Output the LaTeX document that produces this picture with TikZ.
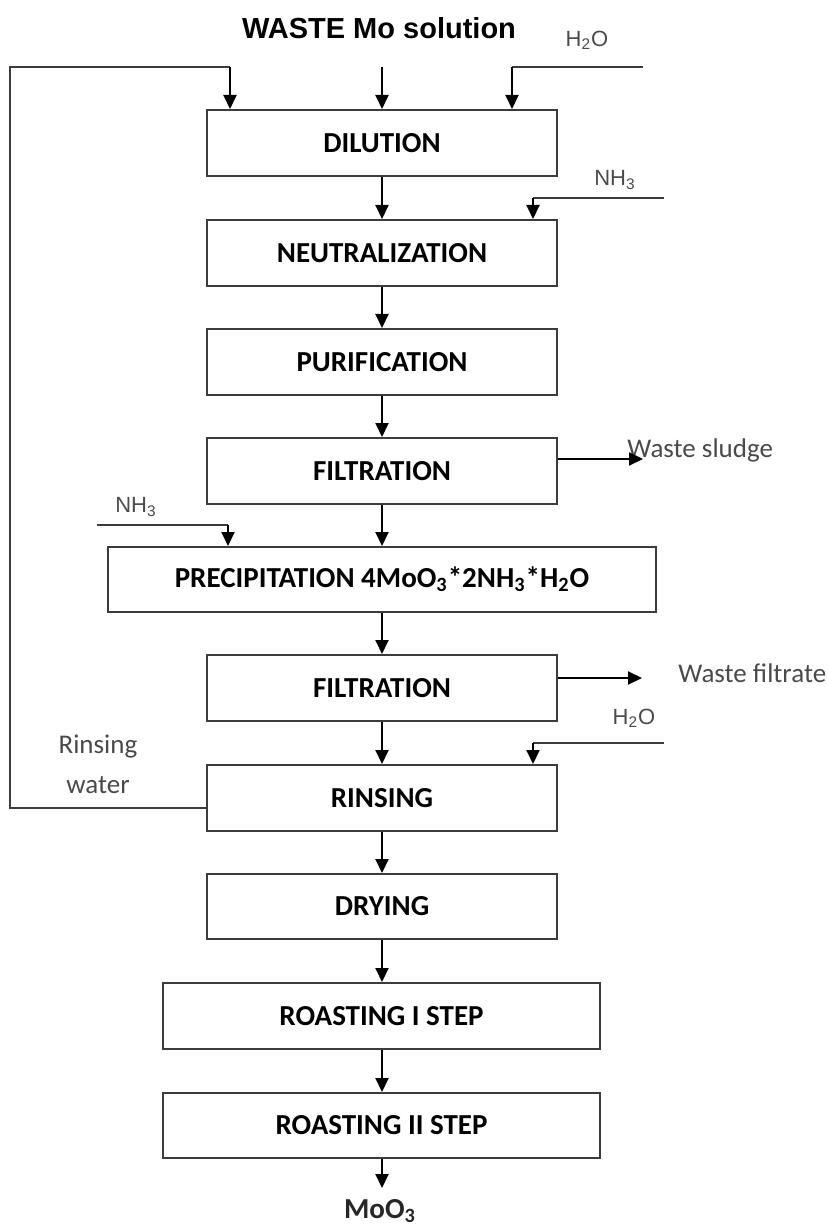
\documentclass[tikz,border=0pt]{standalone}
\usepackage{fontspec}
\setmainfont{Carlito}
\newfontfamily\arialf{Liberation Sans}
\usetikzlibrary{arrows.meta,calc}
\definecolor{lab}{HTML}{4A4A4A}
\definecolor{lin}{HTML}{3C3C3C}
\tikzset{
  procbox/.style={draw=lin, line width=1pt, minimum width=175pt, minimum height=33pt, inner sep=0pt,
    font=\fontsize{14.5}{17}\selectfont\bfseries},
  arr/.style={draw=black, line width=1pt, -{Triangle[width=6.5pt,length=7pt]}},
  feed/.style={draw=lin, line width=1pt},
  chem/.style={text=lab, font=\arialf\fontsize{11}{13}\selectfont, inner sep=0pt},
  side/.style={text=lab, font=\fontsize{13.5}{15}\selectfont, inner sep=0pt},
}
\begin{document}
\begin{tikzpicture}[x=0.5pt,y=-0.5pt]
\useasboundingbox (0,0) rectangle (827,1229);
% title
\node[font=\arialf\fontsize{14.5}{17}\selectfont\bfseries, inner sep=0pt] (title) at (379,28) {WASTE Mo solution};
% boxes
\node[procbox] (dil) at (382,143) {DILUTION};
\node[procbox] (neu) at (382,253) {NEUTRALIZATION};
\node[procbox] (pur) at (382,362) {PURIFICATION};
\node[procbox] (fil1) at (382,471) {FILTRATION};
\node[procbox, minimum width=274pt, minimum height=32.5pt] (pre) at (382,579.5) {PRECIPITATION 4MoO\textsubscript{3}*2NH\textsubscript{3}*H\textsubscript{2}O};
\node[procbox] (fil2) at (382,688) {FILTRATION};
\node[procbox] (rin) at (382,798) {RINSING};
\node[procbox, minimum height=32.5pt] (dry) at (382,906.5) {DRYING};
\node[procbox, minimum width=218.5pt] (r1) at (381.5,1016) {ROASTING I STEP};
\node[procbox, minimum width=218.5pt, minimum height=32.5pt] (r2) at (381.5,1125.5) {ROASTING II STEP};
\node[font=\fontsize{14.5}{17}\selectfont\bfseries, text=black!85, inner sep=0pt] (moo) at (380,1211) {MoO\textsubscript{3}};
% labels
\node[chem] (h2oa) at (587,40) {H\textsubscript{2}O};
\node[chem] (nh3a) at (615,180) {NH\textsubscript{3}};
\node[chem] (nh3b) at (136,507) {NH\textsubscript{3}};
\node[chem] (h2ob) at (634,718) {H\textsubscript{2}O};
\node[side, anchor=west] (ws) at (627,450) {Waste sludge};
\node[side, anchor=west] (wf) at (678,673) {Waste filtrate};
\node[side] (rw1) at (98,747) {Rinsing};
\node[side] (rw2) at (98,785) {water};
% coordinates
\coordinate (tl) at (10,67);
\coordinate (t1) at (230,67);
\coordinate (t2) at (382,67);
\coordinate (t3) at (512,67);
\coordinate (t3e) at (643,67);
\coordinate (n1) at (533,198);
\coordinate (n1e) at (664,198);
\coordinate (n2) at (228,525);
\coordinate (n2e) at (97,525);
\coordinate (w1e) at (643,459);
\coordinate (w2e) at (642,678);
\coordinate (h1) at (533,743);
\coordinate (h1e) at (664,743);
\coordinate (mend) at (382,1188);
% feeds
\draw[feed] ($(rin.west)+(0,10)$) -| (tl) -- (t1);
\draw[arr] (t1) -- (t1 |- dil.north);
\draw[arr] (t2) -- (dil.north);
\draw[feed] (t3e) -- (t3);
\draw[arr] (t3) -- (t3 |- dil.north);
\draw[feed] (n1e) -- (n1);
\draw[arr] (n1) -- (n1 |- neu.north);
\draw[feed] (n2e) -- (n2);
\draw[arr] (n2) -- (n2 |- pre.north);
\draw[feed] (h1e) -- (h1);
\draw[arr] (h1) -- (h1 |- rin.north);
% main flow
\draw[arr] (dil) -- (neu);
\draw[arr] (neu) -- (pur);
\draw[arr] (pur) -- (fil1);
\draw[arr] (fil1) -- (pre);
\draw[arr] (pre) -- (fil2);
\draw[arr] (fil2) -- (rin);
\draw[arr] (rin) -- (dry);
\draw[arr] (dry.south) -- (dry.south |- r1.north);
\draw[arr] (r1.south -| dry.south) -- (dry.south |- r2.north);
\draw[arr] (r2.south -| dry.south) -- (mend);
% outputs
\draw[arr] ($(fil1.east)+(0,-12)$) -- (w1e);
\draw[arr] ($(fil2.east)+(0,-10)$) -- (w2e);
\end{tikzpicture}
\end{document}
